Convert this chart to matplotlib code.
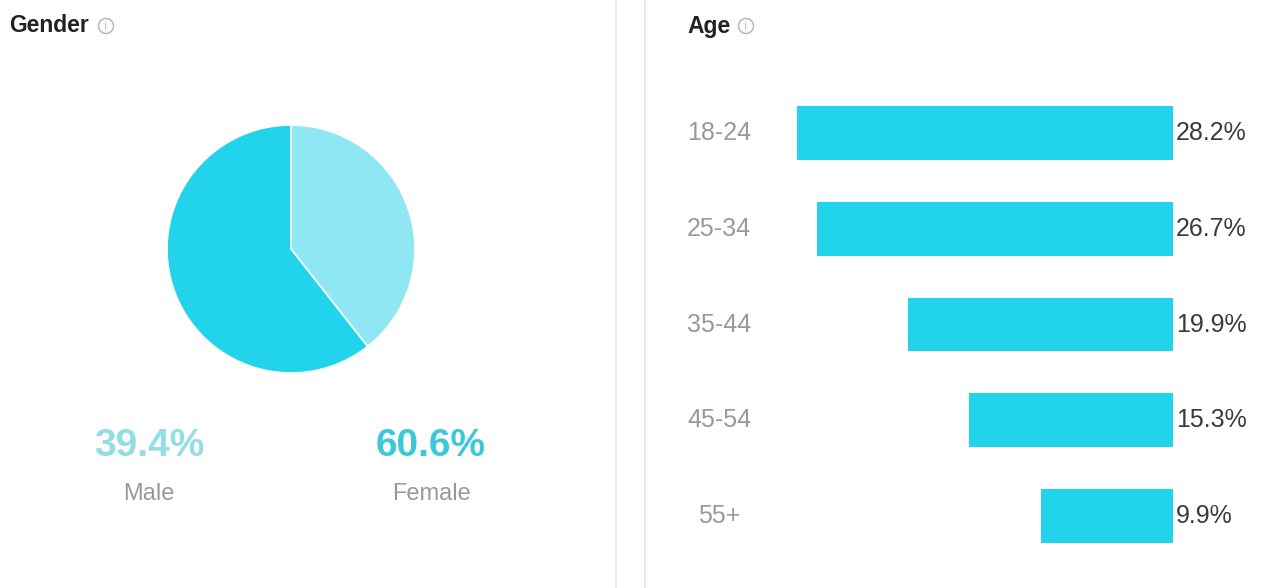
import matplotlib.pyplot as plt
from matplotlib import font_manager as fm
from matplotlib.lines import Line2D
from matplotlib.patches import Ellipse
from matplotlib.transforms import blended_transform_factory

# data
genders = ["Male", "Female"]
gender_share = [39.4, 60.6]
ages = ["18-24", "25-34", "35-44", "45-54", "55+"]
age_share = [28.2, 26.7, 19.9, 15.3, 9.9]

W, H = 1267, 588


def pick_font(name, weight):
    # pin the exact file so a condensed/narrow sibling never gets picked
    best = None
    for f in fm.fontManager.ttflist:
        if f.name != name or f.style != "normal":
            continue
        if str(f.stretch) not in ("normal", "400"):
            continue
        if "narrow" in f.fname.lower() or "condensed" in f.fname.lower():
            continue
        w = f.weight if isinstance(f.weight, int) else fm.weight_dict.get(f.weight, 400)
        score = abs(w - weight)
        if best is None or score < best[0]:
            best = (score, f.fname)
    if best is None:
        return fm.FontProperties(family="DejaVu Sans", weight=weight)
    return fm.FontProperties(fname=best[1])


title_fp = pick_font("Liberation Sans", 700)
label_fp = pick_font("Liberation Sans", 400)

fig = plt.figure(figsize=(W / 100, H / 100), dpi=100)


def fx(px):
    return px / W


def fy(py):
    return 1 - py / H


def fp(base, size):
    p = base.copy()
    p.set_size(size)
    return p


# panel separators
for x in (616, 645):
    fig.add_artist(Line2D([fx(x), fx(x)], [0, 1], color="#e4e4e4", lw=1.2))


def title(x, text):
    fig.text(fx(x), fy(26), text, fontproperties=fp(title_fp, 16.5),
             color="#222222", va="center", ha="left")


def info_icon(x):
    fig.add_artist(Ellipse((fx(x), fy(26)), 15 / W, 15 / H, transform=fig.transFigure,
                           fill=False, ec="#b8b8b8", lw=1.1))
    fig.text(fx(x), fy(26), "i", fontsize=8, color="#b8b8b8", ha="center", va="center")


title(9, "Gender")
info_icon(106)
title(687, "Age")
info_icon(746)

# pie (gender)
ax_pie = fig.add_axes([fx(167), fy(373), 248 / W, 248 / H])
ax_pie.pie(gender_share, colors=["#8fe7f4", "#22d4eb"], startangle=90,
           counterclock=False, radius=1.0,
           wedgeprops={"edgecolor": "white", "linewidth": 1.2})
ax_pie.set_xlim(-1.0, 1.0)
ax_pie.set_ylim(-1.0, 1.0)
ax_pie.set_aspect("equal")
ax_pie.axis("off")

pct_colors = ["#93dde6", "#3cc9d7"]
for x, g, v, c in zip([149, 431], genders, gender_share, pct_colors):
    fig.text(fx(x), fy(446), f"{v}%", fontproperties=fp(title_fp, 28), color=c,
             ha="center", va="center")
    fig.text(fx(x), fy(494), g, fontproperties=fp(label_fp, 17), color="#999999",
             ha="center", va="center")

# bars (age)
ax_bar = fig.add_axes([fx(650), fy(564), (1173 - 650) / W, (564 - 85) / H])
y = list(range(len(ages)))
ax_bar.barh(y, age_share, height=0.56, color="#22d4eb")
ax_bar.set_xlim(523 / 13.33, 0)
ax_bar.set_ylim(4.5, -0.5)
ax_bar.axis("off")
tr = blended_transform_factory(fig.transFigure, ax_bar.transData)
for yi, lab, v in zip(y, ages, age_share):
    fig.text(fx(719), yi, lab, transform=tr, fontproperties=fp(label_fp, 18),
             color="#999999", ha="center", va="center")
    ax_bar.annotate(f"{v}%", (0, yi), xytext=(3, 0), textcoords="offset pixels",
                    fontproperties=fp(label_fp, 18), color="#3a3a3a",
                    ha="left", va="center")

fig.savefig("out.png", dpi=100)
